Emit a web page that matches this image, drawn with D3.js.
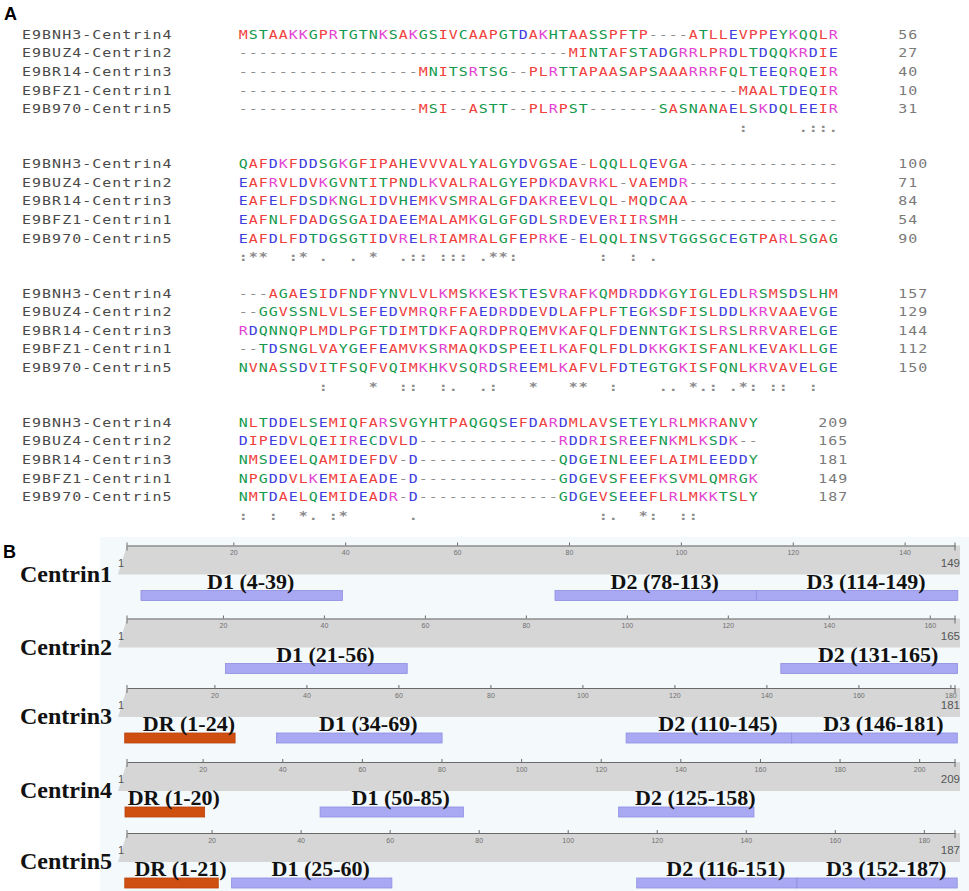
<!DOCTYPE html>
<html><head><meta charset="utf-8">
<script src="https://cdn.jsdelivr.net/npm/d3@7"></script>
<style>body{margin:0;background:#fff}svg{display:block}</style>
</head><body>
<svg id="chart" width="969" height="891"></svg>
<script>
// ---------------- DATA: panel A (alignment) ----------------
const seqNames = ["E9BNH3-Centrin4","E9BUZ4-Centrin2","E9BR14-Centrin3","E9BFZ1-Centrin1","E9B970-Centrin5"];

const block1 = [
  "MSTAAKKGPRTGTNKSAKGSIVCAAPGTDAKHTAASSPFTP----ATLLEVPPEYKQQLR",
  "----------" + "----------" + "----------" + "---" + "MINTAFSTADGRRLPRDLTDQQKRDIE",
  "----------" + "--------" + "MNITSRTSG--PLRTTAPAASAPSAAARRRFQLTEEQRQEIR",
  "----------" + "----------" + "----------" + "----------" + "----------" + "MAALTDEQIR",
  "----------" + "--------" + "MSI--ASTT--PLRPST-------SASNANAELSKDQLEEIR"
];
const block2 = [
  "QAFDKFDDSGKGFIPAHEVVVALYALGYDVGSAE-LQQLLQEVGA" + "----------" + "-----",
  "EAFRVLDVKGVNTITPNDLKVALRALGYEPDKDAVRKL-VAEMDR" + "----------" + "-----",
  "EAFELFDSDKNGLIDVHEMKVSMRALGFDAKREEVLQL-MQDCAA" + "----------" + "-----",
  "EAFNLFDADGSGAIDAEEMALAMKGLGFGDLSRDEVERIIRSMH" + "----------" + "------",
  "EAFDLFDTDGSGTIDVRELRIAMRALGFEPRKE-ELQQLINSVTGGSGCEGTPARLSGAG"
];
const block3 = [
  "---AGAESIDFNDFYNVLVLKMSKKESKTESVRAFKQMDRDDKGYIGLEDLRSMSDSLHM",
  "--GGVSSNLVLSEFEDVMRQRFFAEDRDDEVDLAFPLFTEGKSDFISLDDLKRVAAEVGE",
  "RDQNNQPLMDLPGFTDIMTDKFAQRDPRQEMVKAFQLFDENNTGKISLRSLRRVARELGE",
  "--TDSNGLVAYGEFEAMVKSRMAQKDSPEEILKAFQLFDLDKKGKISFANLKEVAKLLGE",
  "NVNASSDVITFSQFVQIMKHKVSQRDSREEMLKAFVLFDTEGTGKISFQNLKRVAVELGE"
];
const block4 = [
  "NLTDDELSEMIQFARSVGYHTPAQGQSEFDARDMLAVSETEYLRLMKRANVY",
  "DIPEDVLQEIIRECDVLD" + "----------" + "----" + "RDDRISREEFNKMLKSDK--",
  "NMSDEELQAMIDEFDV-D" + "----------" + "----" + "QDGEINLEEFLAIMLEEDDY",
  "NPGDDVLKEMIAEADE-D" + "----------" + "----" + "GDGEVSFEEFKSVMLQMRGK",
  "NMTDAELQEMIDEADR-D" + "----------" + "----" + "GDGEVSEEEFLRLMKKTSLY"
];
const blockEndNumbers = [
  [56, 27, 40, 10, 31],
  [100, 71, 84, 54, 90],
  [157, 129, 144, 112, 150],
  [209, 165, 181, 149, 187]
];
// conservation symbols: [column, symbol]
const conservation1 = [[50,":"],[56,"."],[57,":"],[58,":"],[59,"."]];
const conservation2 = [[0,":"],[1,"*"],[2,"*"],[5,":"],[6,"*"],[8,"."],[11,"."],[13,"*"],[16,"."],[17,":"],[18,":"],
  [20,":"],[21,":"],[22,":"],[24,"."],[25,"*"],[26,"*"],[27,":"],[36,":"],[39,":"],[41,"."]];
const conservation3 = [[8,":"],[13,"*"],[16,":"],[17,":"],[20,":"],[21,"."],[24,"."],[25,":"],[29,"*"],[33,"*"],[34,"*"],
  [37,":"],[42,"."],[43,"."],[45,"*"],[46,"."],[47,":"],[49,"."],[50,"*"],[51,":"],[53,":"],[54,":"],[57,":"]];
const conservation4 = [[0,":"],[3,":"],[6,"*"],[7,"."],[9,":"],[10,"*"],[17,"."],[36,":"],[37,"."],[40,"*"],[41,":"],[44,":"],[45,":"]];

// residue colour groups (Clustal)
const redResidues = "AVFPMILW";
const blueResidues = "DE";
const magentaResidues = "RK";
const greenResidues = "STYHCNGQ";

// ---------------- DATA: panel B (domains) ----------------
const proteins = ["Centrin1","Centrin2","Centrin3","Centrin4","Centrin5"];
const proteinLengths = [149, 165, 181, 209, 187];
const domainLabels = [["D1","D2","D3"],["D1","D2"],["DR","D1","D2","D3"],["DR","D1","D2"],["DR","D1","D2","D3"]];
const domainStarts = [[4,78,114],[21,131],[1,34,110,146],[1,50,125],[1,25,116,152]];
const domainEnds   = [[39,113,149],[56,165],[24,69,145,181],[20,85,158],[21,60,151,187]];
const rulerTicks = [
  [20,40,60,80,100,120,140],
  [20,40,60,80,100,120,140,160],
  [20,40,60,80,100,120,140,160,180],
  [20,40,60,80,100,120,140,160,180,200],
  [20,40,60,80,100,120,140,160,180]
];

// ---------------- DRAW ----------------
const svg = d3.select("#chart");
const mono = "'DejaVu Sans Mono', monospace";
const serif = "'Liberation Serif','Times New Roman',serif";
const sans = "'Liberation Sans',Arial,sans-serif";

const colour = d3.scaleOrdinal()
  .domain(["red","blue","magenta","green","gap"])
  .range(["#f0403c","#3e3edf","#e343d3","#149a4c","#8e8e8e"]);
function groupOf(ch){
  if (redResidues.includes(ch)) return "red";
  if (blueResidues.includes(ch)) return "blue";
  if (magentaResidues.includes(ch)) return "magenta";
  if (greenResidues.includes(ch)) return "green";
  return "gap";
}

svg.append("text").attr("x",4).attr("y",20).attr("font-family",sans).attr("font-weight","bold")
  .attr("font-size",18).text("A");

const blocks = [block1, block2, block3, block4];
const conservations = [conservation1, conservation2, conservation3, conservation4];
const blockTops = [35, 164.3, 293.7, 423];
const col = d3.scaleLinear().domain([0, 59]).range([243.3, 833.3]);
const row = d3.scaleLinear().domain([0, 5]).range([0, 93]);
const sx = 1.3;

blocks.forEach((blk, b) => {
  const g = svg.append("g");
  blk.forEach((seq, r) => {
    const y = blockTops[b] + row(r);
    g.append("text")
      .attr("transform", `translate(22,${y}) scale(${sx},1)`)
      .attr("dominant-baseline","central")
      .attr("font-family", mono).attr("font-size", 11.5).attr("letter-spacing", 0.8)
      .attr("fill", "#4a4a4a").text(seqNames[r]);
    g.append("g").selectAll("text").data(seq.split("")).join("text")
      .attr("transform", (d, i) => `translate(${col(i)},${y}) scale(${sx},1)`)
      .attr("text-anchor","middle").attr("dominant-baseline","central")
      .attr("font-family", mono).attr("font-size", 11.5)
      .attr("fill", d => colour(groupOf(d))).text(d => d);
    g.append("text")
      .attr("transform", `translate(${col(blk[0].length + 6) - 5},${y}) scale(${sx},1)`)
      .attr("dominant-baseline","central")
      .attr("font-family", mono).attr("font-size", 11.5).attr("letter-spacing", 0.8)
      .attr("fill", "#7a7a7a").text(blockEndNumbers[b][r]);
  });
  const yc = blockTops[b] + row(5);
  g.append("g").selectAll("text").data(conservations[b]).join("text")
    .attr("transform", d => `translate(${col(d[0])},${yc}) scale(${sx},1)`)
    .attr("text-anchor","middle").attr("dominant-baseline","central")
    .attr("font-family", mono).attr("font-size", 11.5).attr("font-weight","bold")
    .attr("fill", "#8a8a8a").text(d => d[1]);
});

// ---------------- Panel B ----------------
svg.append("rect").attr("x",100).attr("y",537).attr("width",869).attr("height",354).attr("fill","#f4f9fc");
svg.append("text").attr("x",3).attr("y",558).attr("font-family",sans).attr("font-weight","bold")
  .attr("font-size",18).text("B");

const rulerTops = [545.5, 618.5, 688, 762, 833];
const xStart = 127, xEnd = 955;

proteins.forEach((p, i) => {
  const L = proteinLengths[i];
  const x = d3.scaleLinear().domain([1, L]).range([xStart, xEnd]);
  const y0 = rulerTops[i];
  const g = svg.append("g");

  // grey band
  g.append("path")
    .attr("d", `M${x(1)},${y0} L${x(L)+5},${y0} L${x(L)+5},${y0+29} L${x(1)-9},${y0+29} Z`)
    .attr("fill", "#d6d6d6");

  // ruler axis
  const axis = d3.axisBottom(x).tickValues(rulerTicks[i]).tickSizeInner(-3).tickSizeOuter(0).tickPadding(5)
    .tickFormat(d3.format("d"));
  const ag = g.append("g").attr("transform", `translate(0,${y0})`).call(axis);
  ag.select(".domain").attr("stroke", "#6a6a6a").attr("stroke-width", 1.2);
  ag.selectAll(".tick line").attr("stroke", "#6a6a6a");
  ag.selectAll(".tick text").attr("font-family", sans).attr("font-size", 7).attr("fill", "#707070");
  [1, L].forEach(v => {
    g.append("line").attr("x1", x(v)).attr("x2", x(v)).attr("y1", y0 - 3).attr("y2", y0 + 5)
      .attr("stroke", "#6a6a6a").attr("stroke-width", 1);
  });
  g.append("text").attr("x", x(1) - 6).attr("y", y0 + 17).attr("text-anchor","middle")
    .attr("dominant-baseline","central").attr("font-family", sans).attr("font-size", 11)
    .attr("fill", "#555").text(1);
  g.append("text").attr("x", x(L) + 5).attr("y", y0 + 17).attr("text-anchor","end")
    .attr("dominant-baseline","central").attr("font-family", sans).attr("font-size", 11.5)
    .attr("fill", "#555").text(L);

  // protein label
  g.append("text").attr("x", 20).attr("y", y0 + 36).attr("font-family", serif).attr("font-weight","bold")
    .attr("font-size", 24).attr("fill", "#111").text(p);

  // domains
  const doms = domainLabels[i].map((n, k) => ({name: n, start: domainStarts[i][k], end: domainEnds[i][k]}));
  g.append("g").selectAll("rect").data(doms).join("rect")
    .attr("x", d => x(d.start - 0.5))
    .attr("width", d => x(d.end + 0.5) - x(d.start - 0.5))
    .attr("y", y0 + 45).attr("height", 10)
    .attr("fill", d => d.name === "DR" ? "#cf4f10" : "#a8a8f3")
    .attr("stroke", d => d.name === "DR" ? "#b9420a" : "#8e8ee0").attr("stroke-width", 0.8);
  g.append("g").selectAll("text").data(doms).join("text")
    .attr("x", d => (x(d.start - 0.5) + x(d.end + 0.5)) / 2 + 9)
    .attr("y", y0 + 43)
    .attr("text-anchor", "middle")
    .attr("font-family", serif).attr("font-weight", "bold").attr("font-size", 22).attr("fill", "#111")
    .text(d => `${d.name} (${d.start}-${d.end})`);
});
</script>
</body></html>
